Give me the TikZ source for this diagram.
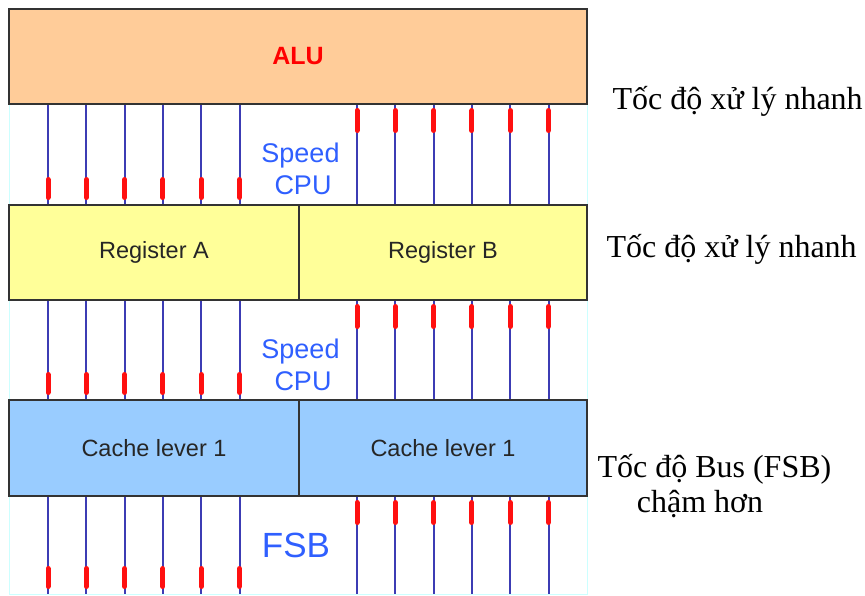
\documentclass[tikz,border=0pt]{standalone}
\usepackage{fontspec}
\setmainfont{Liberation Serif}
\setsansfont{Liberation Sans}
\definecolor{alufill}{HTML}{FFCC99}
\definecolor{regfill}{HTML}{FFFF99}
\definecolor{cachefill}{HTML}{99CCFF}
\definecolor{boxline}{HTML}{333333}
\definecolor{wirecol}{HTML}{3C3CB4}
\definecolor{tipred}{HTML}{FF1010}
\definecolor{speedblue}{HTML}{2F5FFF}
\definecolor{gapline}{HTML}{CCFFFF}
\tikzset{
  unitbox/.style={draw=boxline, line width=1.5pt, inner sep=0pt,
    minimum height=95, text=black!85,
    font=\sffamily\fontsize{23.5}{28}\selectfont},
  wire/.style={wirecol, line width=2pt},
  redtip/.style={tipred, line width=5pt, line cap=round},
  speedtxt/.style={text=speedblue, inner sep=0pt, anchor=base,
    font=\sffamily\fontsize{27}{32}\selectfont},
  sidetxt/.style={inner sep=0pt, font=\fontsize{32}{38}\selectfont}
}
\begin{document}
\begin{tikzpicture}[x=1pt, y=-1pt, line width=1pt]
\def\dw{38.3}
\useasboundingbox (0,0) rectangle (865,595);
% bus area
\draw[gapline] (9,104) rectangle (587,594);
% wires between the units
\foreach \ya/\yb in {104/205, 300/400, 496/594}{
  \foreach \i in {0,...,5}{
    \draw[wire] (48+\i*\dw,\ya) -- (48+\i*\dw,\yb);
    \draw[redtip] (48+\i*\dw,\yb-25.5) -- (48+\i*\dw,\yb-7.5);
    \draw[wire] (357+\i*\dw,\ya) -- (357+\i*\dw,\yb);
    \draw[redtip] (357+\i*\dw,\ya+6.5) -- (357+\i*\dw,\ya+26.5);
  }
}
% ALU
\node[unitbox, fill=alufill, minimum width=578, text=red,
  font=\sffamily\bfseries\fontsize{25}{30}\selectfont] (alu) at (298,56.5) {ALU};
% registers
\node[unitbox, fill=regfill, minimum width=290] (rega) at (154,252.5) {Register A};
\node[unitbox, fill=regfill, minimum width=288] (regb) at (443,252.5) {Register B};
% cache
\node[unitbox, fill=cachefill, minimum width=290, minimum height=96] (cachea) at (154,448) {Cache lever 1};
\node[unitbox, fill=cachefill, minimum width=288, minimum height=96] (cacheb) at (443,448) {Cache lever 1};
% bus labels
\node[speedtxt] (speeda) at (300.5,162) {Speed};
\node[speedtxt] (cpua) at (303,194) {CPU};
\node[speedtxt] (speedb) at (300.5,358) {Speed};
\node[speedtxt] (cpub) at (303,390) {CPU};
\node[speedtxt, font=\sffamily\fontsize{35}{40}\selectfont] (fsb) at (296,557) {FSB};
% side notes
\node[sidetxt, anchor=base west] (notealu) at (612,109) {Tốc độ xử lý nhanh};
\node[sidetxt, anchor=base west] (notereg) at (606,257) {Tốc độ xử lý nhanh};
\node[sidetxt, anchor=base west] (notebus) at (597,477) {Tốc độ Bus (FSB)};
\node[sidetxt, anchor=base] (noteslow) at (700,512) {chậm hơn};
\end{tikzpicture}
\end{document}
